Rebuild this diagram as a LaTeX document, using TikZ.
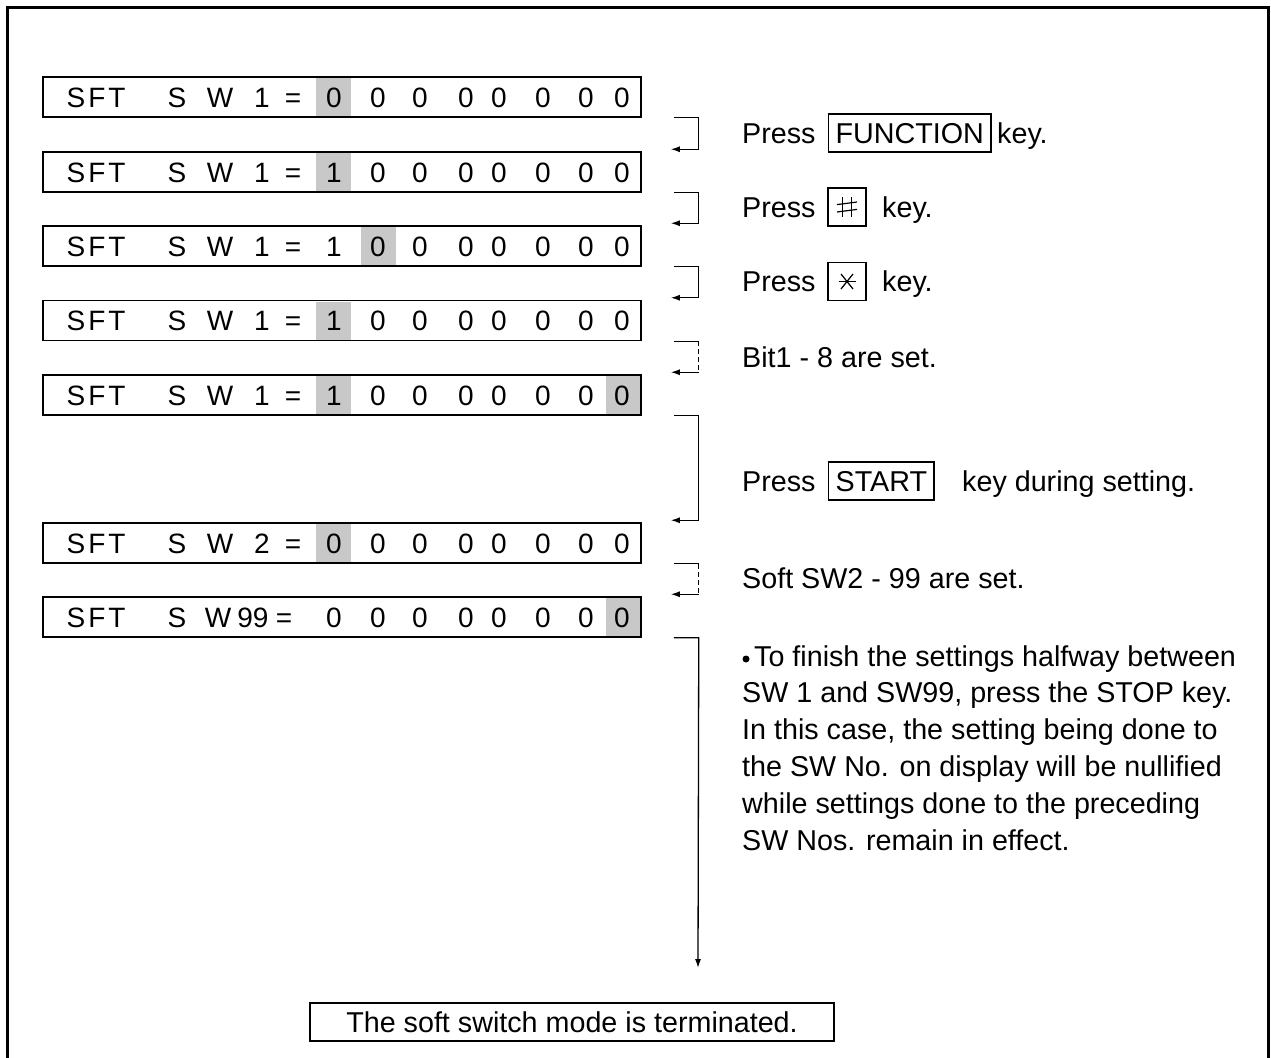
\documentclass[tikz,border=0pt]{standalone}
\usepackage{fontspec}
\setmainfont{Liberation Sans}
\usetikzlibrary{arrows.meta,calc}
\definecolor{hl}{RGB}{200,200,200}
\newcommand\disprow[5]{%
  \foreach \a/\b in {#3} {\fill[hl] (\a,#2-19) rectangle (\b,#2+19);}
  \node[disp] (#1) at (342,#2) {};
  \foreach \x/\c in {#4} {\node[dc] at (\x,#2+10) {\c};}
  \node[dc] at (334,#2+10) {#5};
  \foreach \x in {378,420,466,499,543,586,622} {\node[dc] at (\x,#2+10) {0};}
}
\begin{document}
\begin{tikzpicture}[x=1pt,y=-1pt,
  every node/.style={font=\fontsize{28.7}{37}\selectfont},
  disp/.style={draw,line width=1.5pt,minimum width=598pt,minimum height=40pt,inner sep=0pt},
  dc/.style={anchor=base,inner sep=0pt,font=\fontsize{28}{34}\selectfont},
  txt/.style={anchor=base west,inner sep=0pt},
  keyb/.style={draw,line width=1.3pt,text height=20pt,text depth=0pt,inner ysep=9pt,inner xsep=7pt,anchor=base west},
  sym/.style={draw,line width=1.3pt,minimum size=38pt,inner sep=0pt},
  conn/.style={line width=1.3pt,-{Latex[length=9pt,width=6pt]}},
  seg/.style={line width=1.3pt},
  dseg/.style={line width=1.3pt,dash pattern=on 5pt off 3pt},
]
\useasboundingbox (0,0) rectangle (1271,1057);
\fill[white] (0,0) rectangle (1271,1057);
\draw[line width=3pt] (7.5,1060) -- (7.5,7.5) -- (1268,7.5) -- (1268,1060);

\disprow{r1}{97}{316/351}{76/S,97/F,117/T,177/S,220/W,262/1,293/=}{0}
\disprow{r2}{172}{316/351}{76/S,97/F,117/T,177/S,220/W,262/1,293/=}{1}
\disprow{r3}{246}{361/396}{76/S,97/F,117/T,177/S,220/W,262/1,293/=}{1}
\disprow{r4}{320.5}{316/351}{76/S,97/F,117/T,177/S,220/W,262/1,293/=}{1}
\disprow{r5}{395}{316/351,606/641}{76/S,97/F,117/T,177/S,220/W,262/1,293/=}{1}
\disprow{r6}{543}{316/351}{76/S,97/F,117/T,177/S,220/W,262/2,293/=}{0}
\disprow{r7}{617}{606/641}{76/S,97/F,117/T,177/S,218/W,253/99,284/=}{0}

% connectors
\foreach \a/\b in {r1/r2,r2/r3,r3/r4,r5/r6}
  \draw[conn] ([xshift=32pt]\a.south east) -- ([xshift=57pt]\a.south east) |- ([xshift=29pt,yshift=2pt]\b.north east);
\foreach \a/\b in {r4/r5,r6/r7}{
  \draw[seg] ([xshift=32pt]\a.south east) -- ([xshift=57pt]\a.south east);
  \draw[dseg] ([xshift=57pt]\a.south east) -- ([xshift=57pt,yshift=2pt]\b.north east);
  \draw[conn] ([xshift=57pt,yshift=2pt]\b.north east) -- ([xshift=29pt,yshift=2pt]\b.north east);
}

\node[draw,line width=1.5pt,minimum width=524pt,minimum height=38pt,inner sep=0pt] (fin) at (572,1022) {The soft switch mode is terminated.};
\coordinate (endp) at (698,968);
\draw[conn] ([xshift=32pt]r7.south east) -- ([xshift=57pt]r7.south east) -- (endp);

% right texts
\node[txt] (t1) at (742,143) {Press};
\node[keyb] (k1) at (828,143) {FUNCTION};
\node[txt] (t1b) at (997,143) {key.};

\node[txt] (t2) at (742,217) {Press};
\node[sym] (k2) at (847,207) {};
\begin{scope}[shift={(k2.center)},line width=1.2pt]
  \draw (-4.5,-10) -- (-4.5,10);
  \draw (4.5,-10) -- (4.5,10);
  \draw (-10,-2.4) -- (10,-5);
  \draw (-10,5) -- (10,2.4);
\end{scope}
\node[txt] (t2b) at (882,217) {key.};

\node[txt] (t3) at (742,291.5) {Press};
\node[sym] (k3) at (847,281.5) {};
\begin{scope}[shift={(k3.center)},line width=1.2pt]
  \draw (-8.5,0) -- (8.5,0);
  \draw (-6,-7.5) -- (6,7.5);
  \draw (-6,7.5) -- (6,-7.5);
\end{scope}
\node[txt] (t3b) at (882,291.5) {key.};

\node[txt] (t4) at (742,367) {Bit1 - 8 are set.};

\node[txt] (t5) at (742,491) {Press};
\node[keyb] (k5) at (828,491) {START\hspace{14pt}};
\node[txt] (t5b) at (962,491) {key during setting.};

\node[txt] (t6) at (742,588) {Soft SW2 - 99 are set.};

\node[circle,fill,inner sep=0pt,minimum size=7pt] (bul) at (746,659) {};
\node[txt] (p1) at (754,666) {To finish the settings halfway between};
\node[txt] (p2) at (742,702.8) {SW 1 and SW99, press the STOP key.};
\node[txt] (p3) at (742,739.6) {In this case, the setting being done to};
\node[txt] (p4) at (742,776.4) {the SW No. on display will be nullified};
\node[txt] (p5) at (742,813.2) {while settings done to the preceding};
\node[txt] (p6) at (742,850) {SW Nos. remain in effect.};
\end{tikzpicture}
\end{document}
